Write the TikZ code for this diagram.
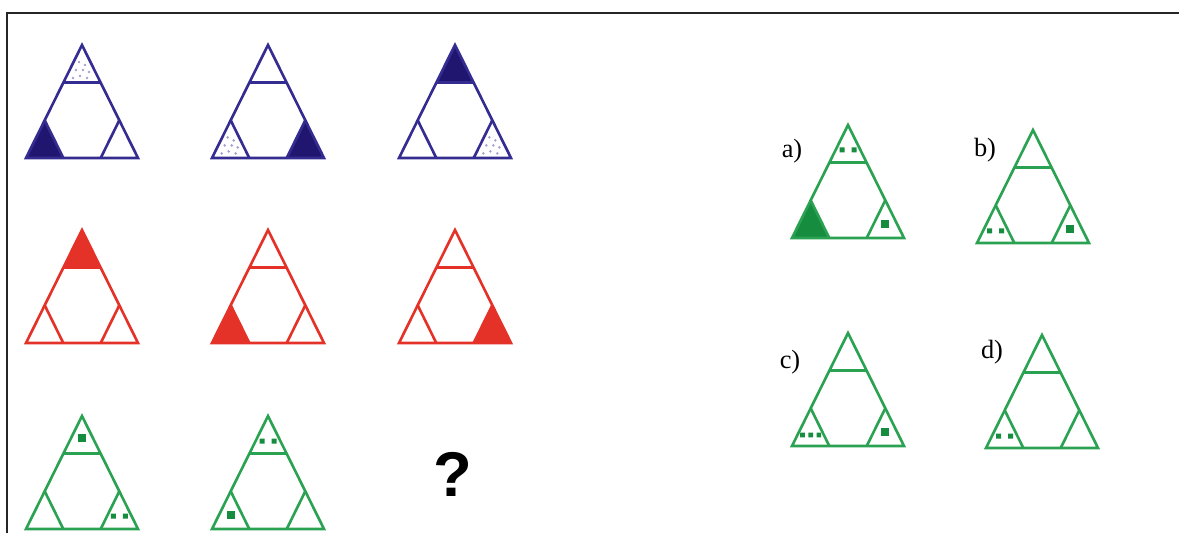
\documentclass[tikz,border=0pt]{standalone}
\usepackage{fontspec}
\setmainfont{Liberation Serif}
\newfontfamily\FontDomanda{Liberation Sans}
\usepackage{xcolor}
\usepackage{tikz}

\definecolor{blu}{RGB}{52,44,145}
\definecolor{bluScuro}{RGB}{32,22,112}
\definecolor{rosso}{RGB}{228,50,40}
\definecolor{verde}{RGB}{42,162,82}
\definecolor{verdeScuro}{RGB}{22,140,62}

% Contorno del triangolo con i tre angoli tagliati a un terzo
\newcommand{\Triangolo}[1]{
    \draw[#1,line width=1.5pt,line join=miter] (0,0) -- (-56,113) -- (56,113) -- cycle;
    \draw[#1,line width=1.5pt] (-18.7,37.7) -- (18.7,37.7);     % taglio in alto
    \draw[#1,line width=1.5pt] (-37.3,75.3) -- (-18.7,113);     % taglio a sinistra
    \draw[#1,line width=1.5pt] (37.3,75.3) -- (18.7,113);       % taglio a destra
}
% Angoli pieni
\newcommand{\Alto}[1]{\fill[#1] (0,0) -- (-18.7,37.7) -- (18.7,37.7) -- cycle;}
\newcommand{\Sinistra}[1]{\fill[#1] (-56,113) -- (-37.3,75.3) -- (-18.7,113) -- cycle;}
\newcommand{\Destra}[1]{\fill[#1] (56,113) -- (37.3,75.3) -- (18.7,113) -- cycle;}
% Segni piccoli
\newcommand{\Quadrato}[2]{\fill[verdeScuro] (#1-4,#2-4) rectangle (#1+4,#2+4);}
\newcommand{\DuePunti}[2]{\fill[verdeScuro] (#1-8.5,#2-2.5) rectangle (#1-3.5,#2+2.5)
                                            (#1+3.5,#2-2.5) rectangle (#1+8.5,#2+2.5);}
\newcommand{\TrePunti}[2]{\fill[verdeScuro] (#1-10.5,#2-2.3) rectangle (#1-5.9,#2+2.3)
                                            (#1-2.3,#2-2.3) rectangle (#1+2.3,#2+2.3)
                                            (#1+5.9,#2-2.3) rectangle (#1+10.5,#2+2.3);}
\newcommand{\Puntinato}[2]{
    \foreach \dx/\dy in {-3/-8,3/-5,-6/0,1/0,7/2,-2/6,5/8,-9/8}
        {\fill[blu!45] (#1+\dx,#2+\dy) circle (1.4);}
}

\begin{document}
\begin{tikzpicture}[x=0.02cm,y=-0.02cm]

    \useasboundingbox (0,0) rectangle (1179,533);

        % Cornice
    \draw[line width=1.2pt,black!85] (7,533) -- (7,13) -- (1179,13);

        % Prima riga: blu
    \begin{scope}[shift={(82,45)}]
        \Puntinato{0}{25}
        \Sinistra{bluScuro}
        \Triangolo{blu}
    \end{scope}
    \begin{scope}[shift={(268,45)}]
        \Puntinato{-37.3}{100.4}
        \Destra{bluScuro}
        \Triangolo{blu}
    \end{scope}
    \begin{scope}[shift={(455,45)}]
        \Alto{bluScuro}
        \Puntinato{37.3}{100.4}
        \Triangolo{blu}
    \end{scope}

        % Seconda riga: rosso
    \begin{scope}[shift={(82,230)}]
        \Alto{rosso}
        \Triangolo{rosso}
    \end{scope}
    \begin{scope}[shift={(268,230)}]
        \Sinistra{rosso}
        \Triangolo{rosso}
    \end{scope}
    \begin{scope}[shift={(455,230)}]
        \Destra{rosso}
        \Triangolo{rosso}
    \end{scope}

        % Terza riga: verde
    \begin{scope}[shift={(82,416)}]
        \Quadrato{0}{22}
        \DuePunti{37.3}{100}
        \Triangolo{verde}
    \end{scope}
    \begin{scope}[shift={(268,416)}]
        \DuePunti{0}{25}
        \Quadrato{-37.3}{99}
        \Triangolo{verde}
    \end{scope}
    \node[font=\FontDomanda\bfseries\fontsize{36}{40}\selectfont] (domanda) at (453,474) {?};

        % Risposte
    \begin{scope}[shift={(848,125)}]
        \DuePunti{0}{25}
        \Sinistra{verdeScuro}
        \Quadrato{37.3}{99}
        \Triangolo{verde}
    \end{scope}
    \node[font=\fontsize{15}{18}\selectfont] (rispA) at (792,151) {a)};

    \begin{scope}[shift={(1033,130)}]
        \DuePunti{-37.3}{101}
        \Quadrato{37.3}{99}
        \Triangolo{verde}
    \end{scope}
    \node[font=\fontsize{15}{18}\selectfont] (rispB) at (985,150) {b)};

    \begin{scope}[shift={(848,333)}]
        \TrePunti{-37.3}{102}
        \Quadrato{37.3}{99}
        \Triangolo{verde}
    \end{scope}
    \node[font=\fontsize{15}{18}\selectfont] (rispC) at (790,362) {c)};

    \begin{scope}[shift={(1042,335)}]
        \DuePunti{-37.3}{101}
        \Triangolo{verde}
    \end{scope}
    \node[font=\fontsize{15}{18}\selectfont] (rispD) at (992,352) {d)};

\end{tikzpicture}
\end{document}
